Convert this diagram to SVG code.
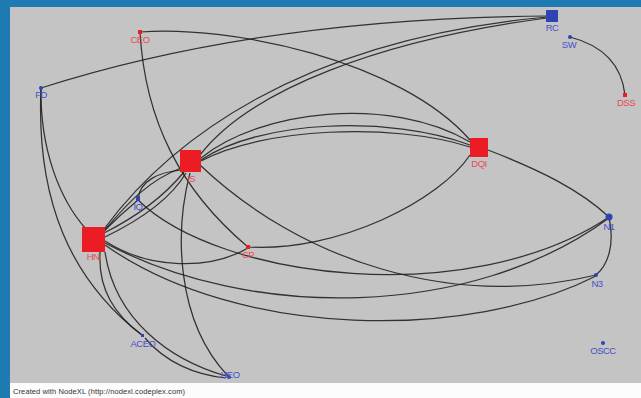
<svg xmlns="http://www.w3.org/2000/svg" width="641" height="398" viewBox="0 0 641 398">
<style>
.e{fill:none;stroke:#1e1e1e;stroke-width:1.25;stroke-opacity:0.88}
.r{fill:#ec1c24}
.b{fill:#2d44b2}
.lr{fill:#e84a55;font-family:"Liberation Sans",Arial,sans-serif;font-size:9.5px;letter-spacing:-0.5px;text-anchor:middle}
.lb{fill:#4650c6;font-family:"Liberation Sans",Arial,sans-serif;font-size:9.5px;letter-spacing:-0.5px;text-anchor:middle}
</style>
<rect x="0" y="0" width="641" height="398" fill="#c4c4c4"/>
<rect x="0" y="0" width="641" height="7" fill="#1d7bb2"/>
<rect x="0" y="0" width="10" height="398" fill="#1d7bb2"/>
<rect x="10" y="383" width="631" height="15" fill="#fcfcfc"/>
<text x="13" y="394" font-family="Liberation Sans,Arial,sans-serif" font-size="7.5" fill="#333" textLength="172">Created with NodeXL (http://nodexl.codeplex.com)</text>
<g id="edges">
<path class="e" d="M41,88 Q260,18 547,16"/>
<path class="e" d="M140,32 C230,25 400,60 470,140"/>
<path class="e" d="M140,32 C145,120 180,190 248,247"/>
<path class="e" d="M41,88 C40,150 60,200 86,229"/>
<path class="e" d="M41,88 C36,200 70,280 143,336"/>
<path class="e" d="M103,232 Q120,215 138,200"/>
<path class="e" d="M138,199 C140,180 160,172 181,170"/>
<path class="e" d="M104,231 C130,200 150,180 181,168"/>
<path class="e" d="M104,233 C140,215 165,195 184,172"/>
<path class="e" d="M105,237 C140,220 170,200 186,173"/>
<path class="e" d="M104,229 C170,140 300,40 547,17"/>
<path class="e" d="M200,155 C250,90 380,40 547,18"/>
<path class="e" d="M201,158 C260,110 390,95 470,142"/>
<path class="e" d="M201,160 C260,120 390,115 470,145"/>
<path class="e" d="M201,161 C262,128 392,122 470,147"/>
<path class="e" d="M470,155 C440,200 340,252 248,247"/>
<path class="e" d="M488,150 C540,170 580,190 609,217"/>
<path class="e" d="M609,217 C615,245 608,265 596,275"/>
<path class="e" d="M570,37 Q620,50 625,95"/>
<path class="e" d="M200,165 C300,260 450,310 596,275"/>
<path class="e" d="M138,200 C220,280 470,310 609,217"/>
<path class="e" d="M105,243 C250,320 470,320 609,218"/>
<path class="e" d="M105,245 C240,340 470,340 596,276"/>
<path class="e" d="M105,241 C150,270 210,270 248,248"/>
<path class="e" d="M100,252 C98,290 115,315 142,335"/>
<path class="e" d="M105,252 C115,320 170,360 226,376"/>
<path class="e" d="M145,338 C165,362 195,375 226,378"/>
<path class="e" d="M190,173 C175,230 175,320 228,376"/>
</g>
<g id="CEO"><rect class="r" x="138" y="30" width="4" height="4"/><text class="lr" x="140" y="43">CEO</text></g>
<g id="FD"><circle class="b" cx="41" cy="88" r="2"/><text class="lb" x="41" y="98">FD</text></g>
<g id="IS"><rect class="r" x="180" y="150" width="21" height="22"/><text class="lr" x="191" y="182">IS</text></g>
<g id="RC"><rect class="b" x="546" y="10" width="12" height="12"/><text class="lb" x="552" y="31">RC</text></g>
<g id="SW"><circle class="b" cx="570" cy="37" r="2"/><text class="lb" x="569" y="48">SW</text></g>
<g id="DSS"><rect class="r" x="623" y="93" width="4" height="4"/><text class="lr" x="626" y="106">DSS</text></g>
<g id="DQI"><rect class="r" x="470" y="138" width="18" height="19"/><text class="lr" x="479" y="167">DQI</text></g>
<g id="IQ"><rect class="b" x="136" y="196" width="4" height="5"/><text class="lb" x="138" y="210">IQ</text></g>
<g id="HN"><rect class="r" x="82" y="227" width="23" height="25"/><text class="lr" x="93" y="260">HN</text></g>
<g id="CP"><rect class="r" x="246" y="245" width="4" height="4"/><text class="lr" x="248" y="258">CP</text></g>
<g id="ACEO"><rect class="b" x="141" y="334" width="3" height="3"/><text class="lb" x="143" y="347">ACEO</text></g>
<g id="HEO"><circle class="b" cx="229" cy="377" r="2"/><text class="lb" x="230" y="378">HEO</text></g>
<g id="N1"><circle class="b" cx="609" cy="217" r="3.5"/><text class="lb" x="609" y="230">N1</text></g>
<g id="N3"><circle class="b" cx="596" cy="275" r="2"/><text class="lb" x="597" y="287">N3</text></g>
<g id="OSCC"><circle class="b" cx="603" cy="343" r="2"/><text class="lb" x="603" y="354">OSCC</text></g>
</svg>
